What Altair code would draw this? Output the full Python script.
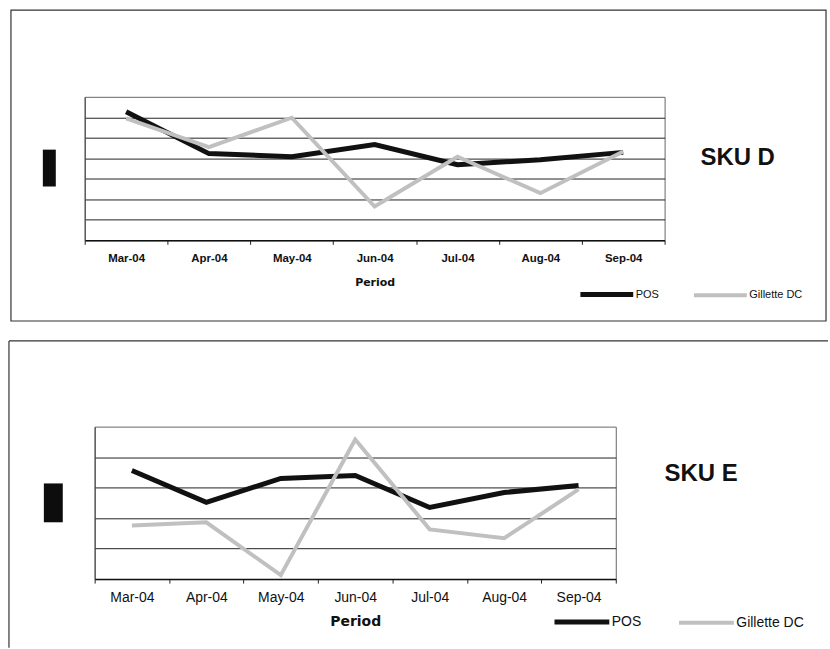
import altair as alt
import pandas as pd

# Monthly periods shown on both panels
months = ["Mar-04", "Apr-04", "May-04", "Jun-04", "Jul-04", "Aug-04", "Sep-04"]
series_names = ["POS", "Gillette DC"]
line_colors = ["#111111", "#c0c0c0"]
line_widths = [5, 4]

# SKU D series
sku_d_pos = [6.27, 4.23, 4.08, 4.67, 3.69, 3.93, 4.29]
sku_d_dc = [5.95, 4.54, 5.98, 1.65, 4.08, 2.30, 4.33]

# SKU E series
sku_e_pos = [3.56, 2.52, 3.30, 3.40, 2.35, 2.84, 3.07]
sku_e_dc = [1.76, 1.86, 0.13, 4.58, 1.63, 1.34, 2.94]


def long_table(pos, dc):
    return pd.DataFrame({
        "Period": months * 2,
        "Series": ["POS"] * len(months) + ["Gillette DC"] * len(months),
        "Value": pos + dc,
    })


def one_row(**kw):
    return pd.DataFrame({k: [v] for k, v in kw.items()})


def panel(df, sku, y_max, w, h, st):
    x = alt.X(
        "Period:N", sort=months, title="Period", bandPosition=0.5,
        scale=alt.Scale(type="band", paddingInner=0, paddingOuter=0),
        axis=alt.Axis(
            labelAngle=0, tickBand="extent", ticks=True, tickSize=4,
            tickColor="#222222", domainColor="#111111", domainWidth=1.5,
            labelFont="Liberation Sans", labelFontSize=st["label_size"],
            labelFontWeight=st["label_weight"], labelColor="#111111",
            labelPadding=st["label_pad"], labelBaseline="middle",
            titleFont="DejaVu Sans", titleFontSize=st["title_size"],
            titleFontWeight="bold", titleColor="#111111",
            titleY=st["title_y"], titleBaseline="middle", grid=False,
        ),
    )
    y = alt.Y(
        "Value:Q",
        scale=alt.Scale(domain=[0, y_max], nice=False, zero=True),
        axis=alt.Axis(
            values=list(range(1, y_max)), labels=False, ticks=False, title=None,
            grid=True, gridColor="#222222", gridWidth=1,
            domainColor="#444444", domainWidth=1,
        ),
    )
    color = alt.Color(
        "Series:N",
        scale=alt.Scale(domain=series_names, range=line_colors),
        legend=alt.Legend(
            title=None, orient="none", legendX=st["leg_x"], legendY=st["leg_y"],
            direction="horizontal", columns=2, symbolType="stroke",
            symbolSize=st["sym_len"] ** 2, symbolStrokeWidth=4,
            labelFont="Liberation Sans", labelFontSize=st["leg_size"],
            labelColor="#111111", labelOffset=0, columnPadding=st["col_pad"],
            padding=0,
        ),
    )
    width_enc = alt.StrokeWidth(
        "Series:N", scale=alt.Scale(domain=series_names, range=line_widths),
        legend=None,
    )

    # invisible extent of the panel, then its frame and the dark y-title block
    cx0, cx1, cy0, cy1 = st["canvas"]
    canvas = alt.Chart(one_row(k=0)).mark_rect(fill="white", fillOpacity=0, stroke=None).encode(
        x=alt.value(cx0), x2=alt.value(cx1), y=alt.value(cy0), y2=alt.value(cy1)
    )
    fx0, fx1, fy0, fy1 = st["frame"]
    frame_style = dict(stroke="#333333", strokeWidth=1.2)
    if st["closed_frame"]:
        frame = [alt.Chart(one_row(k=0)).mark_rect(fill=None, **frame_style).encode(
            x=alt.value(fx0), x2=alt.value(fx1), y=alt.value(fy0), y2=alt.value(fy1))]
    else:
        # only the top and left edges fall inside the page
        frame = [
            alt.Chart(one_row(k=0)).mark_rule(**frame_style).encode(
                x=alt.value(fx0), x2=alt.value(fx1), y=alt.value(fy0)),
            alt.Chart(one_row(k=0)).mark_rule(**frame_style).encode(
                x=alt.value(fx0), y=alt.value(fy0), y2=alt.value(fy1)),
        ]
    bx0, bx1, by0, by1 = st["block"]
    block = alt.Chart(one_row(k=0)).mark_rect(fill="#0d0d0d").encode(
        x=alt.value(bx0), x2=alt.value(bx1), y=alt.value(by0), y2=alt.value(by1)
    )

    base = alt.Chart(df)
    pos_line = base.transform_filter(alt.datum.Series == "POS").mark_line(
        strokeJoin="miter", strokeCap="butt"
    ).encode(x=x, y=y, color=color, strokeWidth=width_enc)
    dc_line = base.transform_filter(alt.datum.Series == "Gillette DC").mark_line(
        strokeJoin="miter", strokeCap="butt"
    ).encode(x=x, y=y, color=color, strokeWidth=width_enc)

    sku_text = alt.Chart(one_row(label=sku)).mark_text(
        align="left", baseline="middle", font="Liberation Sans",
        fontSize=24, fontWeight="bold", color="#111111",
    ).encode(x=alt.value(st["sku_x"]), y=alt.value(st["sku_y"]), text="label:N")

    return alt.layer(canvas, *frame, block, pos_line, dc_line, sku_text).properties(
        width=w, height=h
    )


style_d = dict(
    label_size=11.5, label_weight="bold", label_pad=14, title_size=11, title_y=42,
    leg_x=495, leg_y=169.5, sym_len=53, leg_size=11, col_pad=26,
    canvas=(-84, 746, -95, 235), frame=(-74, 744, -87, 225), closed_frame=True,
    block=(-42, -29, 53, 90), sku_x=618, sku_y=61,
)
style_e = dict(
    label_size=14, label_weight="normal", label_pad=15, title_size=14, title_y=42.5,
    leg_x=459, leg_y=166, sym_len=55, leg_size=14, col_pad=29,
    canvas=(-94, 736, -94.5, 222), frame=(-86, 736, -86, 222), closed_frame=False,
    block=(-51, -32, 57, 96), sku_x=572, sku_y=47.5,
)

top = panel(long_table(sku_d_pos, sku_d_dc), "SKU D", 7, 582, 144, style_d)
bottom = panel(long_table(sku_e_pos, sku_e_dc), "SKU E", 5, 523, 153, style_e)

# a narrow blank cell pushes the lower panel's plot area 10px further right
nudge = alt.Chart(one_row(k=0)).mark_rect(fill="white", fillOpacity=0).encode(
    x=alt.value(0), x2=alt.value(1), y=alt.value(0), y2=alt.value(1)
).properties(width=10, height=1, view=alt.ViewBackground(stroke=None))
bottom_row = alt.hconcat(nudge, bottom, spacing=0, bounds="flush").resolve_scale(
    color="independent", strokeWidth="independent"
)

chart = alt.vconcat(top, bottom_row, spacing=0).resolve_scale(
    x="independent", y="independent", color="independent", strokeWidth="independent"
).resolve_legend(color="independent").properties(
    padding=0, background="white"
).configure_view(stroke="#666666", strokeWidth=1)

chart.save("out.html", embed_options={"renderer": "svg", "actions": False})
